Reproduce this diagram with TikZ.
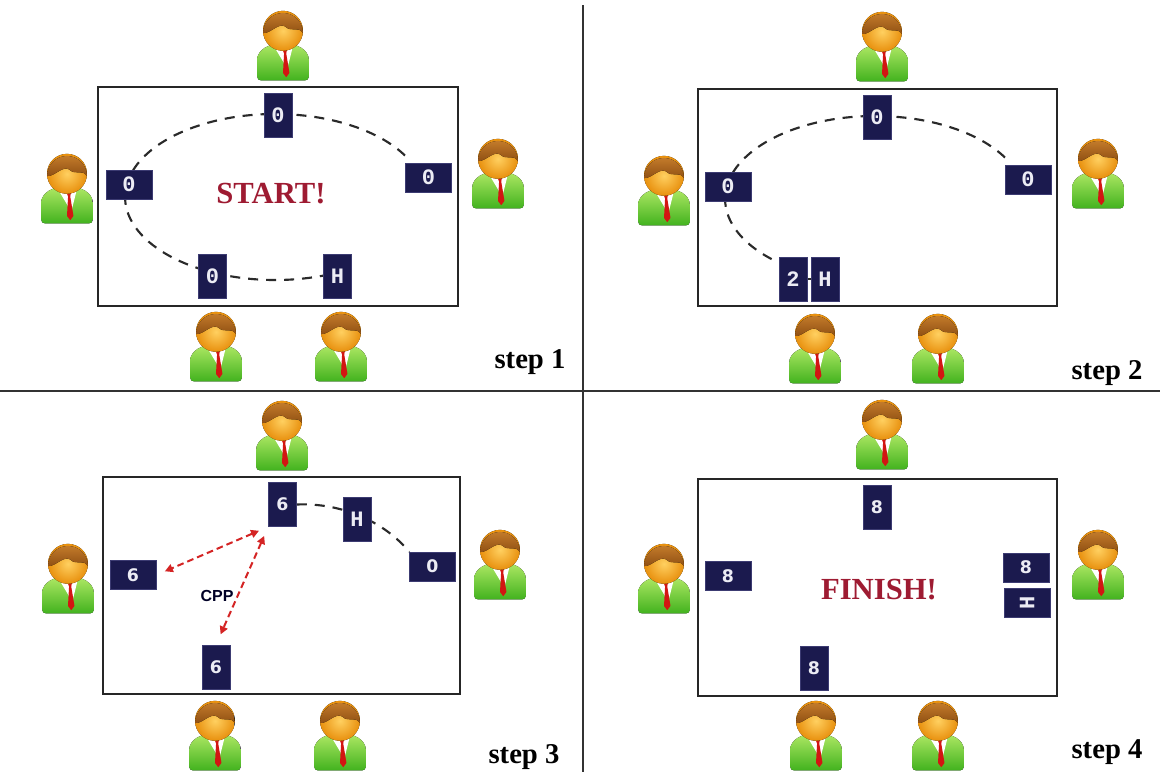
\documentclass[tikz,border=0pt]{standalone}
\usepackage{fontspec}
\usepackage{graphicx}
\setmainfont{Liberation Serif}
\newfontfamily\cardmono{Liberation Mono}
\newfontfamily\cardsans{DejaVu Sans}
\newfontfamily\labelsans{Liberation Sans}
\usetikzlibrary{arrows.meta,backgrounds}

\definecolor{cardnavy}{HTML}{1B1A4E}
\definecolor{cardedge}{HTML}{3C3B72}
\definecolor{cardtext}{HTML}{ECECF4}
\definecolor{tableline}{HTML}{262626}
\definecolor{ringgray}{HTML}{2A2A2A}
\definecolor{cppred}{HTML}{D42424}
\definecolor{bannerred}{HTML}{9E1B32}
\definecolor{bodylight}{HTML}{AEE864}
\definecolor{bodydark}{HTML}{42B21E}
\definecolor{facelight}{HTML}{FFD060}
\definecolor{facedark}{HTML}{E8900E}
\definecolor{hairlight}{HTML}{C27A2A}
\definecolor{hairdark}{HTML}{8E4E12}
\definecolor{tiered}{HTML}{D21612}

\tikzset{
  card/.style={fill=cardnavy, draw=cardedge, line width=0.4pt, inner sep=0pt,
    text=cardtext, font=\cardmono\bfseries\fontsize{16.5}{16.5}\selectfont},
  cardv/.style={card, minimum width=21pt, minimum height=33pt},
  cardh/.style={card, minimum width=34.5pt, minimum height=21.75pt},
  sanscard/.style={font=\cardsans\bfseries\fontsize{13}{13}\selectfont},
  tablebox/.style={draw=tableline, line width=1.5pt},
  ring/.style={draw=ringgray, line width=1.6pt, dash pattern=on 7.5pt off 6pt},
  cpp/.style={draw=cppred, line width=1.5pt, dash pattern=on 5pt off 3pt,
    {Triangle[length=6pt,width=6pt]}-{Triangle[length=6pt,width=6pt]}},
  banner/.style={text=bannerred, font=\bfseries\fontsize{23}{23}\selectfont},
  steplabel/.style={text=black, font=\bfseries\fontsize{21.5}{21.5}\selectfont},
  divider/.style={draw=black!80, line width=1.1pt},
  person/.pic={
    % body with rounded shoulders
    \fill[top color=bodylight, bottom color=bodydark, rounded corners=3pt]
      (-24,31) -- (-24,16) .. controls (-24,2) and (-12,-3) .. (0,-3)
      .. controls (12,-3) and (24,2) .. (24,16) -- (24,31) -- cycle;
    % shirt collar
    \fill[white] (-8,0) -- (9,0) -- (4,20) -- cycle;
    % tie
    \fill[tiered] (-1,1) -- (4,1) -- (3,6) -- (6,24) -- (3,28) -- (0,24) -- (1,6) -- cycle;
    % face
    \fill[inner color=facelight, outer color=facedark] (0,-15) circle (18.5);
    % hair
    \fill[top color=hairlight, bottom color=hairdark]
      (-18.5,-13) arc[start angle=180, end angle=360, radius=18.5]
      .. controls (14,-20) and (8,-13) .. (2,-19)
      .. controls (-4,-23) and (-12,-12) .. (-18.5,-13) -- cycle;
  }
}

\begin{document}
\begin{tikzpicture}[x=0.75pt,y=-0.75pt]
\useasboundingbox (0,0) rectangle (1160,775);

% quadrant dividers
\coordinate (vtop) at (583,5);
\coordinate (vbot) at (583,772);
\coordinate (hleft) at (0,391);
\coordinate (hright) at (1160,391);
\draw[divider] (vtop) -- (vbot);
\draw[divider] (hleft) -- (hright);

% tables
\draw[tablebox] (98,87) rectangle (458,306);
\draw[tablebox] (698,89) rectangle (1057,306);
\draw[tablebox] (103,477) rectangle (460,694);
\draw[tablebox] (698,479) rectangle (1057,696);

% players around each table
\foreach \px/\py in {283/47, 67/190, 498/175, 216/348, 341/348,
                     882/48, 664/192, 1098/175, 815/350, 938/350,
                     282/437, 68/580, 500/566, 215/737, 340/737,
                     882/436, 664/580, 1098/566, 816/737, 938/737}
  \pic[scale=1.08] at (\px,\py) {person};

% ---- step 1 ----
\node[cardv] (p1top) at (278,115) {0};
\node[cardh] (p1left) at (129,184.5) {0};
\node[cardh] (p1right) at (428.5,177.5) {0};
\node[cardv] (p1bot) at (212.5,276.5) {0};
\node[cardv] (p1h) at (337.5,276.5) {H};
\node[banner] (p1text) at (271,194) {START!};
\node[steplabel] (p1step) at (530,362) {step 1};

% ---- step 2 ----
\node[cardv] (p2top) at (877,117.5) {0};
\node[cardh] (p2left) at (728,186.5) {0};
\node[cardh] (p2right) at (1028,179.5) {0};
\node[cardv] (p2two) at (793,279) {2};
\node[cardv] (p2h) at (825,279) {H};
\node[steplabel] (p2step) at (1107,373) {step 2};

% ---- step 3 ----
\node[cardv, sanscard] (p3six) at (282.5,504.5) {6};
\node[cardv] (p3h) at (357,519.5) {H};
\node[cardh, sanscard] (p3zero) at (432.5,566.5) {0};
\node[cardh, sanscard] (p3left) at (133,575) {6};
\node[cardv, sanscard] (p3bot) at (216,667) {6};
\node[text=black!85!blue, font=\labelsans\bfseries\fontsize{12}{12}\selectfont] (p3cpp) at (217,596) {CPP};
\node[steplabel] (p3step) at (524,757) {step 3};
\draw[cpp, shorten <=7.5pt, shorten >=7pt] (p3six.south west) -- (p3left.east);
\draw[cpp, shorten <=7.5pt, shorten >=8.5pt] (p3six.south west) -- (p3bot.north);

% ---- step 4 ----
\node[cardv, sanscard] (p4top) at (877,507) {8};
\node[cardh, sanscard] (p4left) at (728,576) {8};
\node[cardh, sanscard] (p4right) at (1026,567.5) {8};
\node[cardh] (p4h) at (1027,602.5) {\rotatebox{90}{H}};
\node[cardv, sanscard] (p4bot) at (814,668) {8};
\node[banner] (p4text) at (879,590) {FINISH!};
\node[steplabel] (p4step) at (1107,752) {step 4};

% dashed passing routes, under the cards
\begin{scope}[on background layer]
  \draw[ring] (405,155.5) arc[start angle=-30, end angle=-292, x radius=150, y radius=83];
  \draw[ring] (1005,157.5) arc[start angle=-30, end angle=-230, x radius=150, y radius=83];
  \draw[ringgray, line width=1.6pt] (p2two) -- (p2h);
  \draw[ring] (p3six.east) .. controls +(45,-2) and +(-25,-30) .. (p3zero.north west);
\end{scope}
\end{tikzpicture}
\end{document}
